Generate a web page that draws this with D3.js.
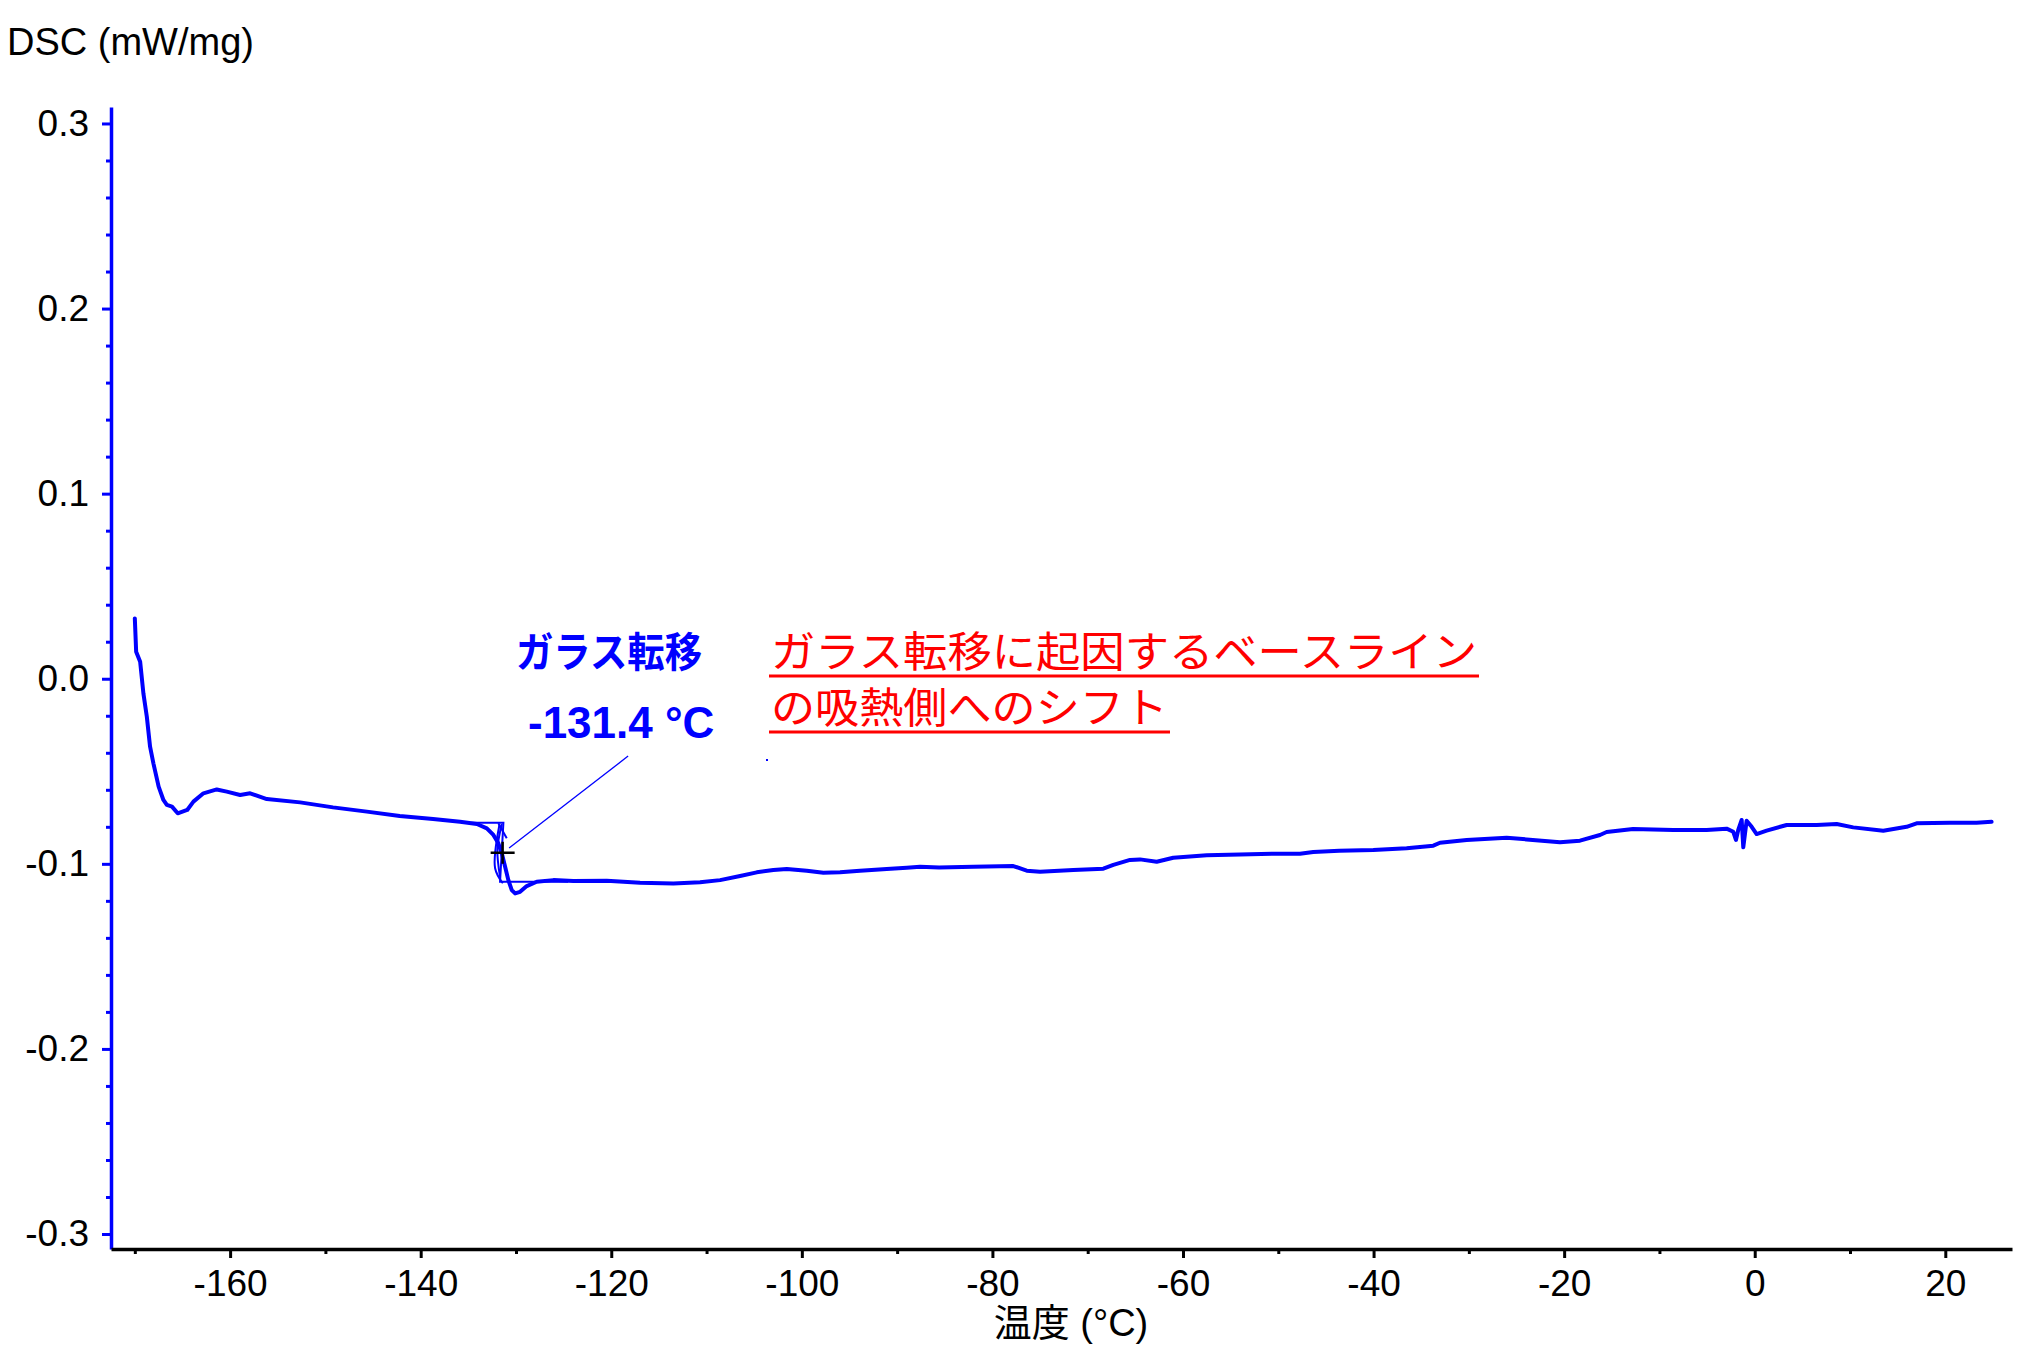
<!DOCTYPE html>
<html><head><meta charset="utf-8">
<script src="https://cdn.jsdelivr.net/npm/d3@7"></script>
<style>body{margin:0;background:#fff} svg{display:block;background:#fff}</style>
</head><body>
<svg id="c" width="2023" height="1362"></svg>
<script>
// ---- data ----
const temps = [-170.0,-169.86,-169.44,-169.1,-168.74,-168.4,-168.05,-167.5,-167.0,-166.64,-166.1,-165.5,-164.5,-163.85,-162.8,-161.4,-160.35,-158.95,-157.9,-156.15,-152.65,-149.2,-145.65,-142.2,-138.7,-135.87,-134.1,-133.06,-132.37,-131.85,-131.49,-131.14,-130.8,-130.44,-130.09,-129.57,-128.87,-127.82,-126.07,-123.98,-120.47,-116.98,-113.48,-110.68,-108.58,-106.48,-104.73,-102.99,-101.58,-99.48,-97.74,-95.99,-93.89,-91.09,-88.99,-87.59,-85.6,-82.0,-77.81,-76.4,-75.0,-71.51,-68.36,-67.31,-65.56,-64.51,-62.76,-61.02,-57.51,-54.02,-50.52,-47.72,-46.33,-43.6,-40.03,-36.53,-33.73,-33.03,-30.23,-26.03,-23.93,-20.44,-18.34,-16.24,-15.54,-12.77,-8.55,-5.05,-2.95,-2.25,-1.97,-1.73,-1.37,-1.20,-0.85,-0.32,0.20,1.25,3.35,6.5,8.6,10.34,13.49,15.94,16.99,20.48,23.28,24.86];
const dsc = [0.0326,0.0146,0.0092,-0.0079,-0.0205,-0.0367,-0.0457,-0.0583,-0.0655,-0.0682,-0.0691,-0.0727,-0.0709,-0.0664,-0.0619,-0.0598,-0.0610,-0.0628,-0.0619,-0.0650,-0.0668,-0.0695,-0.0718,-0.0742,-0.0758,-0.0773,-0.0785,-0.0808,-0.0844,-0.0889,-0.0943,-0.1016,-0.1088,-0.1142,-0.1160,-0.1151,-0.1120,-0.1097,-0.1088,-0.1093,-0.1091,-0.1102,-0.1106,-0.1100,-0.1088,-0.1066,-0.1046,-0.1033,-0.1028,-0.1037,-0.1048,-0.1046,-0.1037,-0.1028,-0.1021,-0.1016,-0.1020,-0.1016,-0.1012,-0.1037,-0.1043,-0.1033,-0.1026,-0.1006,-0.0979,-0.0976,-0.0989,-0.0967,-0.0954,-0.0949,-0.0945,-0.0945,-0.0936,-0.0930,-0.0925,-0.0916,-0.0902,-0.0886,-0.0871,-0.0859,-0.0868,-0.0884,-0.0875,-0.0844,-0.0828,-0.0812,-0.0817,-0.0817,-0.0810,-0.0827,-0.0871,-0.0817,-0.0763,-0.0911,-0.0767,-0.0800,-0.0839,-0.0821,-0.0790,-0.0790,-0.0785,-0.0803,-0.0821,-0.0800,-0.0781,-0.0778,-0.0778,-0.0773];

const xMajorTicks = [-160,-140,-120,-100,-80,-60,-40,-20,0,20];
const xMinorTicks = [-170,-150,-130,-110,-90,-70,-50,-30,-10,10];
const yMajorTicks = [-0.3,-0.2,-0.1,0.0,0.1,0.2,0.3];
const yMinorTicks = [-0.28,-0.26,-0.24,-0.22,-0.18,-0.16,-0.14,-0.12,-0.08,-0.06,-0.04,-0.02,0.02,0.04,0.06,0.08,0.12,0.14,0.16,0.18,0.22,0.24,0.26,0.28];

// glass transition construction (data units)
const tgValue = -131.4;
const tgDsc = -0.094;
const tgLabel = "-131.4 °C";
const tgTitle = "ガラス転移";
const baselineConstruction = [[-134.7,-0.0778],[-131.32,-0.0778],[-131.67,-0.1097],[-124.53,-0.1097]];
const tangentLoops = [
  [[-131.85,-0.0781],[-130.97,-0.0862]],
  [[-131.74,-0.0790],[-132.19,-0.1024],[-131.38,-0.1105]],
  [[-131.49,-0.0785],[-131.95,-0.0925],[-131.67,-0.1070]]
];
const leaderLine = [[-118.23,-0.0418],[-130.72,-0.0915]];
const noteLines = ["ガラス転移に起因するベースライン","の吸熱側へのシフト"];
const yTitle = "DSC (mW/mg)";
const xTitle = "温度 (°C)";

// ---- drawing ----
const BLUE = "#0000ff", RED = "#ff0000";
const FONT = "'Liberation Sans', Arial, 'Noto Sans CJK JP', sans-serif";
const JFONT = "'Noto Sans CJK JP', 'Liberation Sans', sans-serif";
const svg = d3.select("#c");
const x = d3.scaleLinear().domain([-172.5, 27.0]).range([111, 2012]);
const y = d3.scaleLinear().domain([-0.3081, 0.3089]).range([1249, 107]);

// Y axis (blue)
const gyMinor = svg.append("g").attr("transform","translate(111,0)")
  .call(d3.axisLeft(y).tickValues(yMinorTicks).tickSize(5).tickFormat(""));
gyMinor.select(".domain").remove();
gyMinor.selectAll("line").attr("stroke",BLUE).attr("stroke-width",3);
const gy = svg.append("g").attr("transform","translate(111,0)")
  .call(d3.axisLeft(y).tickValues(yMajorTicks).tickSize(9).tickSizeOuter(0).tickPadding(13).tickFormat(d=>d.toFixed(1)));
gy.select(".domain").attr("stroke",BLUE).attr("stroke-width",3.5);
gy.selectAll("line").attr("stroke",BLUE).attr("stroke-width",3);
gy.selectAll("text").attr("fill","#000").style("font-family",FONT).style("font-size","37px");

// X axis (black)
const gxMinor = svg.append("g").attr("transform","translate(0,1249)")
  .call(d3.axisBottom(x).tickValues(xMinorTicks).tickSize(5).tickFormat(""));
gxMinor.select(".domain").remove();
gxMinor.selectAll("line").attr("stroke","#000").attr("stroke-width",3);
const gx = svg.append("g").attr("transform","translate(0,1249)")
  .call(d3.axisBottom(x).tickValues(xMajorTicks).tickSize(9).tickSizeOuter(0).tickPadding(12).tickFormat(d=>String(d)));
gx.select(".domain").attr("stroke","#000").attr("stroke-width",3.5);
gx.selectAll("line").attr("stroke","#000").attr("stroke-width",3);
gx.selectAll("text").attr("fill","#000").style("font-family",FONT).style("font-size","37px");

// axis titles
svg.append("text").attr("x",7).attr("y",55).attr("fill","#000")
  .style("font-family",FONT).style("font-size","38px").text(yTitle);
svg.append("text").attr("x",1071).attr("y",1336).attr("text-anchor","middle").attr("fill","#000")
  .style("font-family",FONT).style("font-size","38px").text(xTitle);

// data line
const pts = temps.map((t,i)=>[t,dsc[i]]);
const line = d3.line().x(d=>x(d[0])).y(d=>y(d[1]));
svg.append("path").datum(pts).attr("d",line).attr("fill","none")
  .attr("stroke",BLUE).attr("stroke-width",4).attr("stroke-linejoin","round").attr("stroke-linecap","round");

// construction lines
svg.append("path").datum(baselineConstruction).attr("d",line).attr("fill","none")
  .attr("stroke",BLUE).attr("stroke-width",2);
const loopLine = d3.line().x(d=>x(d[0])).y(d=>y(d[1])).curve(d3.curveCatmullRom);
tangentLoops.forEach(l=>{
  svg.append("path").datum(l).attr("d",loopLine).attr("fill","none")
    .attr("stroke",BLUE).attr("stroke-width",2);
});
svg.append("path").datum(leaderLine).attr("d",line).attr("fill","none")
  .attr("stroke",BLUE).attr("stroke-width",1.3);

// Tg cross marker
const cx = x(tgValue), cy = y(tgDsc);
svg.append("path").attr("d",`M${cx-12},${cy}H${cx+12}M${cx},${cy-11}V${cy+11}`)
  .attr("stroke","#000").attr("stroke-width",2.5);

// annotations
svg.append("text").attr("x",516).attr("y",667).attr("fill",BLUE)
  .style("font-family",JFONT).style("font-size","41px").style("font-weight","bold")
  .attr("textLength",186).attr("lengthAdjust","spacingAndGlyphs").text(tgTitle);
svg.append("text").attr("x",528).attr("y",738).attr("fill",BLUE)
  .style("font-family",FONT).style("font-size","44px").style("font-weight","bold").text(tgLabel);

const noteX = 771, noteY = [667, 723], noteW = [706, 397];
noteLines.forEach((s,i)=>{
  svg.append("text").attr("x",noteX).attr("y",noteY[i]).attr("fill",RED)
    .style("font-family",JFONT).style("font-size","42px")
    .attr("textLength",noteW[i]).attr("lengthAdjust","spacingAndGlyphs").text(s);
  svg.append("line").attr("x1",noteX-2).attr("x2",noteX-2+noteW[i]+4)
    .attr("y1",noteY[i]+9).attr("y2",noteY[i]+9).attr("stroke",RED).attr("stroke-width",3);
});
svg.append("rect").attr("x",766).attr("y",759).attr("width",2).attr("height",2).attr("fill",BLUE);
</script>
</body></html>
